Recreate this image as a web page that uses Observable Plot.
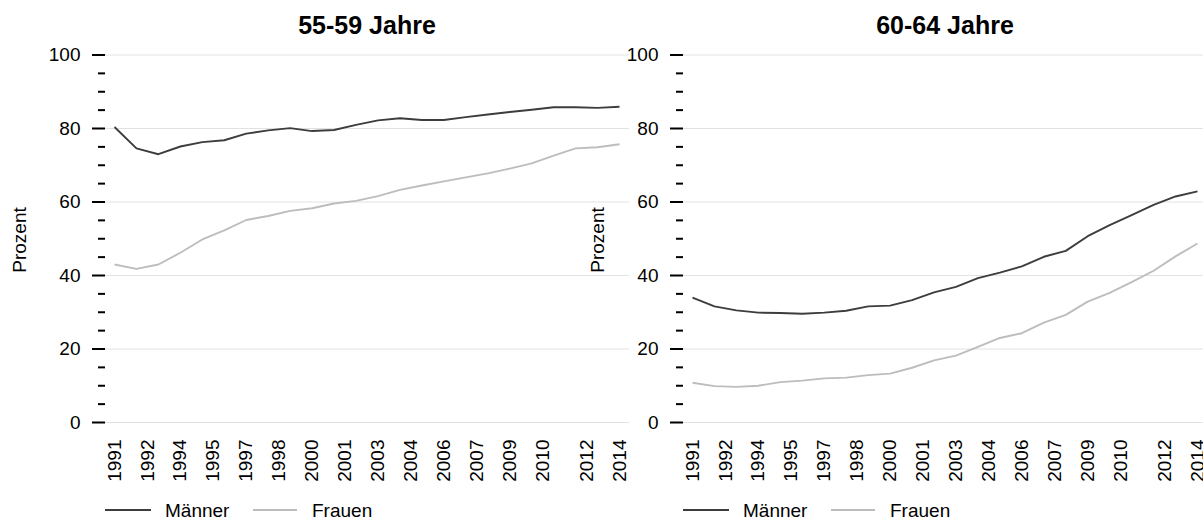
<!DOCTYPE html>
<html>
<head>
<meta charset="utf-8">
<script src="https://cdn.jsdelivr.net/npm/d3@7"></script>
<script src="https://cdn.jsdelivr.net/npm/@observablehq/plot@0.6"></script>
<style>
  html, body { margin: 0; padding: 0; background: #fff; overflow: hidden; }
  #chart { position: relative; width: 1203px; height: 521px; overflow: hidden; background: #fff;
           font-family: 'Liberation Sans', Arial, Helvetica, sans-serif; color: #000; }
  .panel { position: absolute; top: 0; width: 640px; height: 521px; }
  .panel svg { max-width: none !important; width: 640px; height: 521px; }
  .title { position: absolute; width: 300px; text-align: center; font-size: 25px; line-height: 25px; font-weight: bold; }
  .ylab { position: absolute; width: 100px; height: 20px; line-height: 20px; text-align: center; font-size: 19px; transform: rotate(-90deg); }
  .legend { position: absolute; width: 400px; height: 521px; }
</style>
</head>
<body>
<div id="chart"></div>
<script>
// ---- data ----
const years = [1991, 1992, 1993, 1994, 1995, 1996, 1997, 1998, 1999, 2000, 2001, 2002,
               2003, 2004, 2005, 2006, 2007, 2008, 2009, 2010, 2011, 2012, 2013, 2014];
const panelTitles = ["55-59 Jahre", "60-64 Jahre"];
const seriesNames = ["Männer", "Frauen"];
const maenner5559 = [80.4, 74.6, 73.0, 75.1, 76.3, 76.8, 78.6, 79.5, 80.1, 79.3, 79.6, 81.0,
                     82.2, 82.8, 82.3, 82.3, 83.1, 83.8, 84.5, 85.1, 85.8, 85.8, 85.6, 85.9];
const frauen5559  = [43.0, 41.8, 43.0, 46.2, 49.8, 52.3, 55.1, 56.2, 57.6, 58.3, 59.6, 60.3,
                     61.6, 63.3, 64.5, 65.6, 66.7, 67.8, 69.1, 70.5, 72.6, 74.6, 74.9, 75.7];
const maenner6064 = [34.0, 31.6, 30.5, 29.9, 29.8, 29.6, 29.9, 30.4, 31.6, 31.8, 33.3, 35.4,
                     36.9, 39.3, 40.8, 42.5, 45.1, 46.7, 50.7, 53.7, 56.4, 59.2, 61.5, 62.9];
const frauen6064  = [10.8, 9.9, 9.7, 10.0, 11.0, 11.4, 12.0, 12.2, 12.9, 13.3, 14.9, 16.9,
                     18.2, 20.6, 23.0, 24.3, 27.2, 29.3, 32.9, 35.3, 38.2, 41.3, 45.2, 48.7];
const xTickValues = [1991, 1992.5, 1994, 1995.5, 1997, 1998.5, 2000, 2001.5, 2003, 2004.5,
                     2006, 2007.5, 2009, 2010.5, 2012.5, 2014];
const xTickLabels = ["1991", "1992", "1994", "1995", "1997", "1998", "2000", "2001", "2003", "2004",
                     "2006", "2007", "2009", "2010", "2012", "2014"];
const yMajorTicks = [0, 20, 40, 60, 80, 100];
const yMinorTicks = [5, 10, 15, 25, 30, 35, 45, 50, 55, 65, 70, 75, 85, 90, 95];
const yLabel = "Prozent";
const colors = ["#3d3d3d", "#bdbdbd"];

// ---- layout ----
const chart = document.getElementById("chart");
const W = 640, H = 521, ML = 105, MR = 11, MT = 54.5, MB = 99;
const offsets = [0, 578];
const labelMap = new Map(xTickValues.map((v, i) => [v, xTickLabels[i]]));
const font = "'Liberation Sans', Arial, Helvetica, sans-serif";

function makePanel(idx, maenner, frauen) {
  const data = [];
  years.forEach((yr, i) => {
    data.push({year: yr, value: maenner[i], sex: seriesNames[0]});
    data.push({year: yr, value: frauen[i], sex: seriesNames[1]});
  });
  const svg = Plot.plot({
    width: W, height: H,
    marginLeft: ML, marginRight: MR, marginTop: MT, marginBottom: MB,
    style: {background: "none", fontFamily: font, fontSize: "19px", color: "#000", overflow: "visible", maxWidth: "none"},
    x: {type: "linear", domain: [1991, 2014], insetLeft: 9, insetRight: 10},
    y: {domain: [0, 100]},
    color: {domain: seriesNames, range: colors},
    marks: [
      Plot.gridY({ticks: yMajorTicks, stroke: "#e2e2e2", strokeOpacity: 1, strokeWidth: 1}),
      Plot.axisY({ticks: yMinorTicks, tickSize: 7, text: null, label: null, stroke: "#000", strokeWidth: 2}),
      Plot.axisY({ticks: yMajorTicks, tickSize: 13, tickPadding: 12, label: null, stroke: "#000", strokeWidth: 2,
                  tickFormat: d => String(d), fill: "#000"}),
      Plot.axisX({ticks: xTickValues, tickSize: 0, tickPadding: 17, tickRotate: -90, label: null,
                  tickFormat: d => labelMap.get(d), fill: "#000"}),
      Plot.lineY(data, {x: "year", y: "value", stroke: "sex", strokeWidth: 1.9,
                        strokeLinejoin: "round", strokeLinecap: "butt"})
    ]
  });
  const wrap = document.createElement("div");
  wrap.className = "panel";
  wrap.style.left = offsets[idx] + "px";
  wrap.appendChild(svg);
  chart.appendChild(wrap);

  const off = offsets[idx];
  // title
  const t = document.createElement("div");
  t.className = "title";
  t.textContent = panelTitles[idx];
  t.style.left = (off + (ML + (W - MR)) / 2 - 150) + "px";
  t.style.top = "13px";
  chart.appendChild(t);
  // y label
  const yl = document.createElement("div");
  yl.className = "ylab";
  yl.textContent = yLabel;
  yl.style.left = (off + 20 - 50) + "px";
  yl.style.top = (240 - 10) + "px";
  chart.appendChild(yl);
  // legend
  const ns = "http://www.w3.org/2000/svg";
  const ls = document.createElementNS(ns, "svg");
  ls.setAttribute("width", 400); ls.setAttribute("height", 521);
  ls.setAttribute("class", "legend");
  ls.style.left = off + "px"; ls.style.top = "0px";
  const lineX = [[105, 151], [253, 297]];
  const textX = [165, 312];
  seriesNames.forEach((name, i) => {
    const l = document.createElementNS(ns, "line");
    l.setAttribute("x1", lineX[i][0]); l.setAttribute("x2", lineX[i][1]);
    l.setAttribute("y1", 510); l.setAttribute("y2", 510);
    l.setAttribute("stroke", colors[i]); l.setAttribute("stroke-width", 2);
    ls.appendChild(l);
    const tx = document.createElementNS(ns, "text");
    tx.setAttribute("x", textX[i]); tx.setAttribute("y", 517);
    tx.setAttribute("font-size", 19); tx.setAttribute("font-family", font);
    tx.setAttribute("fill", "#000");
    tx.textContent = name;
    ls.appendChild(tx);
  });
  chart.appendChild(ls);
}

makePanel(0, maenner5559, frauen5559);
makePanel(1, maenner6064, frauen6064);
</script>
</body>
</html>
